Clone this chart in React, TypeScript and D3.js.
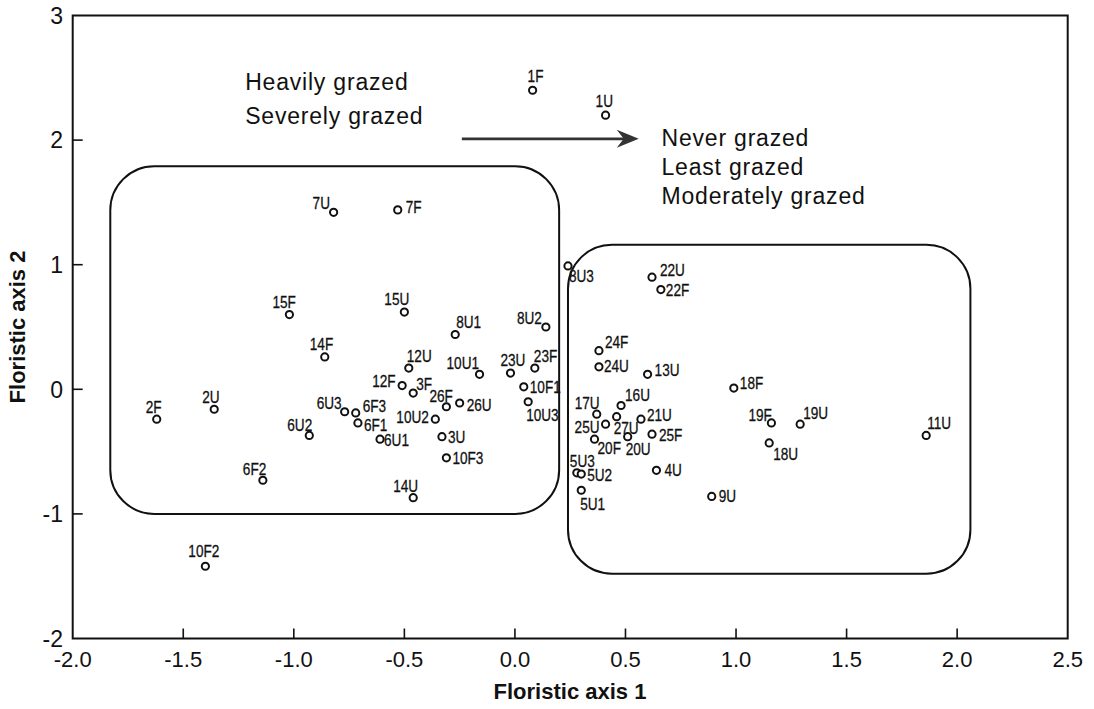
import * as d3 from "d3";

// site scores on the two floristic axes
const siteLabels = [
  "1F", "1U", "7U", "7F", "15F", "15U", "8U1", "8U2", "14F", "12U",
  "10U1", "23U", "23F", "12F", "3F", "10F1", "2F", "2U", "6U3", "6F3",
  "26F", "26U", "10U2", "10U3", "6U2", "6F1", "6U1", "3U", "10F3", "6F2",
  "14U", "10F2", "8U3", "22U", "22F", "24F", "24U", "13U", "18F", "17U",
  "16U", "21U", "25U", "27U", "25F", "20F", "20U", "19F", "19U", "18U",
  "11U", "5U3", "5U2", "5U1", "4U", "9U",
];
const axis1 = [
  0.08, 0.41, -0.82, -0.53, -1.02, -0.5, -0.27, 0.14, -0.86, -0.48,
  -0.16, -0.02, 0.09, -0.51, -0.46, 0.04, -1.62, -1.36, -0.77, -0.72,
  -0.31, -0.25, -0.36, 0.06, -0.93, -0.71, -0.61, -0.33, -0.31, -1.14,
  -0.46, -1.4, 0.24, 0.62, 0.66, 0.38, 0.38, 0.6, 0.99, 0.37,
  0.48, 0.57, 0.41, 0.46, 0.62, 0.36, 0.51, 1.16, 1.29, 1.15,
  1.86, 0.28, 0.3, 0.3, 0.64, 0.89,
];
const axis2 = [
  2.4, 2.2, 1.42, 1.44, 0.6, 0.62, 0.44, 0.5, 0.26, 0.17,
  0.12, 0.13, 0.17, 0.03, -0.03, 0.02, -0.24, -0.16, -0.18, -0.19,
  -0.14, -0.11, -0.24, -0.1, -0.37, -0.27, -0.4, -0.38, -0.55, -0.73,
  -0.87, -1.42, 0.99, 0.9, 0.8, 0.31, 0.18, 0.12, 0.01, -0.2,
  -0.13, -0.24, -0.28, -0.22, -0.36, -0.4, -0.38, -0.27, -0.28, -0.43,
  -0.37, -0.67, -0.68, -0.81, -0.65, -0.86,
];

const xTicks = [-2, -1.5, -1, -0.5, 0, 0.5, 1, 1.5, 2, 2.5];
const yTicks = [-2, -1, 0, 1, 2, 3];

const leftGroupText = ["Heavily grazed", "Severely grazed"];
const rightGroupText = ["Never grazed", "Least grazed", "Moderately grazed"];

// label placement (px from the point: text start, baseline)
const labelOffset: Record<string, [number, number]> = {
  "1F": [-5, -8], "1U": [-10, -8], "7U": [-21, -3], "7F": [8, 3],
  "15F": [-17, -7], "15U": [-20, -7], "8U1": [1, -6], "8U2": [-29, -3],
  "14F": [-15, -7], "12U": [-2, -6], "10U1": [-33, -5], "23U": [-10, -7],
  "23F": [-1, -6], "12F": [-30, 1], "3F": [3, -3], "10F1": [6, 6],
  "2F": [-11, -6], "2U": [-12, -6], "6U3": [-28, -3], "6F3": [7, -1],
  "26F": [-17, -5], "26U": [7, 8], "10U2": [-39, 4], "10U3": [-2, 19],
  "6U2": [-22, -4], "6F1": [6, 8], "6U1": [4, 7], "3U": [6, 6],
  "10F3": [6, 6], "6F2": [-20, -5], "14U": [-20, -6], "10F2": [-17, -9],
  "8U3": [1, 16], "22U": [8, -1], "22F": [5, 6], "24F": [6, -3],
  "24U": [5, 5], "13U": [7, 2], "18F": [6, 1], "17U": [-22, -5],
  "16U": [4, -4], "21U": [6, 2], "25U": [-31, 9], "27U": [-3, 17],
  "25F": [7, 7], "20F": [3, 15], "20U": [-2, 18], "19F": [-23, -2],
  "19U": [3, -5], "18U": [4, 17], "11U": [1, -6], "5U3": [-7, -6],
  "5U2": [6, 7], "5U1": [-1, 20], "4U": [8, 6], "9U": [7, 6],
};

const W = 1094;
const H = 709;
const font = "'Liberation Sans', Arial, Helvetica, sans-serif";

export default function App() {
  const x = d3.scaleLinear().domain([-2, 2.5]).range([72.7, 1067.7]);
  const y = d3.scaleLinear().domain([-2, 3]).range([638.5, 15.5]);

  // group outlines in data units: [x0, x1, y0, y1]
  const groups = [
    [-1.83, 0.2, -1.0, 1.79],
    [0.24, 2.06, -1.48, 1.16],
  ];

  const arrowX0 = x(-0.24);
  const arrowX1 = x(0.56);
  const arrowY = y(2.01);

  return (
    <svg
      width={W}
      height={H}
      style={{ position: "absolute", left: 0, top: 0, background: "#fff" }}
      fontFamily={font}
    >
      <rect x={0} y={0} width={W} height={H} fill="#fff" />

      {/* frame */}
      <rect
        x={x(-2)}
        y={y(3)}
        width={x(2.5) - x(-2)}
        height={y(-2) - y(3)}
        fill="none"
        stroke="#111"
        strokeWidth={2}
      />

      {/* x ticks */}
      {xTicks.map((t) => (
        <g key={"x" + t}>
          {t > -2 && t < 2.5 && (
            <line x1={x(t)} x2={x(t)} y1={y(-2)} y2={y(-2) - 10} stroke="#111" strokeWidth={1.6} />
          )}
          <text x={x(t)} y={667} textAnchor="middle" fontSize={22} fill="#111">
            {t.toFixed(1)}
          </text>
        </g>
      ))}

      {/* y ticks */}
      {yTicks.map((t) => (
        <g key={"y" + t}>
          {t > -2 && t < 3 && (
            <line x1={x(-2)} x2={x(-2) + 10} y1={y(t)} y2={y(t)} stroke="#111" strokeWidth={1.6} />
          )}
          <text x={63} y={y(t)} dy="0.36em" textAnchor="end" fontSize={23} fill="#111">
            {String(t)}
          </text>
        </g>
      ))}

      {/* axis titles */}
      <text x={570} y={699} textAnchor="middle" fontSize={22} fontWeight="bold" fill="#111">
        Floristic axis 1
      </text>
      <text
        transform={`translate(25,327) rotate(-90)`}
        textAnchor="middle"
        fontSize={22}
        fontWeight="bold"
        fill="#111"
      >
        Floristic axis 2
      </text>

      {/* group outlines */}
      {groups.map(([x0, x1, y0, y1], i) => (
        <rect
          key={"g" + i}
          x={x(x0)}
          y={y(y1)}
          width={x(x1) - x(x0)}
          height={y(y0) - y(y1)}
          rx={44}
          ry={44}
          fill="none"
          stroke="#111"
          strokeWidth={2}
        />
      ))}

      {/* arrow */}
      <line x1={arrowX0} x2={arrowX1 - 14} y1={arrowY} y2={arrowY} stroke="#333" strokeWidth={2.6} />
      <path
        d={`M${arrowX1},${arrowY} L${arrowX1 - 22},${arrowY - 9} L${arrowX1 - 15},${arrowY} L${arrowX1 - 22},${arrowY + 9} Z`}
        fill="#333"
      />

      {/* annotations */}
      {leftGroupText.map((s, i) => (
        <text key={s} x={x(-1.22)} y={y([2.4, 2.13][i])} fontSize={23} letterSpacing={0.8} fill="#111">
          {s}
        </text>
      ))}
      {rightGroupText.map((s, i) => (
        <text key={s} x={x(0.663)} y={y([1.95, 1.72, 1.49][i])} fontSize={23} letterSpacing={0.8} fill="#111">
          {s}
        </text>
      ))}

      {/* sites */}
      {siteLabels.map((name, i) => {
        const cx = x(axis1[i]);
        const cy = y(axis2[i]);
        const [dx, dy] = labelOffset[name] ?? [5, -5];
        return (
          <g key={name}>
            <circle cx={cx} cy={cy} r={3.6} fill="#fff" stroke="#111" strokeWidth={2} />
            <text
              transform={`translate(${cx + dx},${cy + dy}) scale(0.8,1)`}
              fontSize={17}
              fill="#111"
              stroke="#111"
              strokeWidth={0.3}
            >
              {name}
            </text>
          </g>
        );
      })}
    </svg>
  );
}
